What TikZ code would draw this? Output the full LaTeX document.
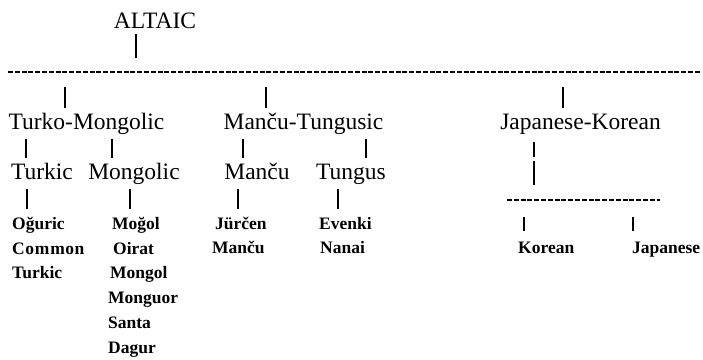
\documentclass[tikz,border=0pt]{standalone}
\usepackage{fontspec}
\setmainfont{Liberation Serif}
\begin{document}
\begin{tikzpicture}[x=1pt,y=-1pt,
  big/.style={inner sep=0pt,anchor=base,font=\fontsize{23.5}{27}\selectfont},
  leaf/.style={inner sep=0pt,anchor=base west,font=\fontsize{17.5}{20}\selectfont\bfseries},
  tick/.style={line width=1.3pt},
  dashline/.style={line width=1.3pt,dash pattern=on 5pt off 1.8pt}]
\useasboundingbox (0,0) rectangle (703,359);
% top level
\node[big] (altaic) at (155,28) {ALTAIC};
\coordinate (a1) at (136,34); \coordinate (a2) at (136,58);
\draw[tick] (a1) -- (a2);
\coordinate (d1) at (8,72); \coordinate (d2) at (701,72);
\draw[dashline] (d1) -- (d2);
% second level
\node[big] (tm) at (86.5,129) {Turko-Mongolic};
\node[big] (mt) at (303.5,129) {Manču-Tungusic};
\node[big] (jk) at (580.5,129) {Japanese-Korean};
\coordinate (tm1) at (65,87); \coordinate (tm2) at (65,108);
\coordinate (mt1) at (266,87); \coordinate (mt2) at (266,108);
\coordinate (jk1) at (563,87); \coordinate (jk2) at (563,108);
\draw[tick] (tm1) -- (tm2);
\draw[tick] (mt1) -- (mt2);
\draw[tick] (jk1) -- (jk2);
% third level
\node[big] (turkic) at (42,179) {Turkic};
\node[big] (mongolic) at (134,179) {Mongolic};
\node[big] (manchu) at (257,179) {Manču};
\node[big] (tungus) at (351,179) {Tungus};
\foreach \n/\x in {t/26,m/112,c/243,g/366}{
  \coordinate (\n u1) at (\x,139); \coordinate (\n u2) at (\x,158);
  \draw[tick] (\n u1) -- (\n u2);
}
\foreach \n/\x in {t/27,m/130,c/238,g/338}{
  \coordinate (\n l1) at (\x,189); \coordinate (\n l2) at (\x,209);
  \draw[tick] (\n l1) -- (\n l2);
}
% leaves
\node[leaf] (oguric) at (12,229) {Oğuric};
\node[leaf] (common) at (12,254) {C\kern0.5pt o\kern0.8pt m\kern0.8pt m\kern0.5pt o\kern0.5pt n};
\node[leaf] (turkic2) at (12,278) {Turkic};
\node[leaf] (mogol) at (112,229) {Moğol};
\node[leaf] (oirat) at (113,254) {Oirat};
\node[leaf] (mongol) at (110,278) {Mongol};
\node[leaf] (monguor) at (108,303) {Monguor};
\node[leaf] (santa) at (108,328) {Santa};
\node[leaf] (dagur) at (108,353) {Dagur};
\node[leaf] (jurcen) at (215,229) {Jürčen};
\node[leaf] (manchu2) at (212,253) {Manču};
\node[leaf] (evenki) at (319,229) {Evenki};
\node[leaf] (nanai) at (320,253) {Nanai};
% Japanese-Korean branch
\coordinate (j1) at (534,142); \coordinate (j2) at (534,157);
\coordinate (j3) at (534,161); \coordinate (j4) at (534,185);
\draw[tick] (j1) -- (j2);
\draw[tick] (j3) -- (j4);
\coordinate (jd1) at (507,200); \coordinate (jd2) at (660,200);
\draw[dashline] (jd1) -- (jd2);
\coordinate (k1) at (524,217); \coordinate (k2) at (524,231);
\coordinate (p1) at (633,217); \coordinate (p2) at (633,231);
\draw[tick] (k1) -- (k2);
\draw[tick] (p1) -- (p2);
\node[leaf] (korean) at (518,253) {Korean};
\node[leaf] (japanese) at (632,253) {Japanese};
\end{tikzpicture}
\end{document}
